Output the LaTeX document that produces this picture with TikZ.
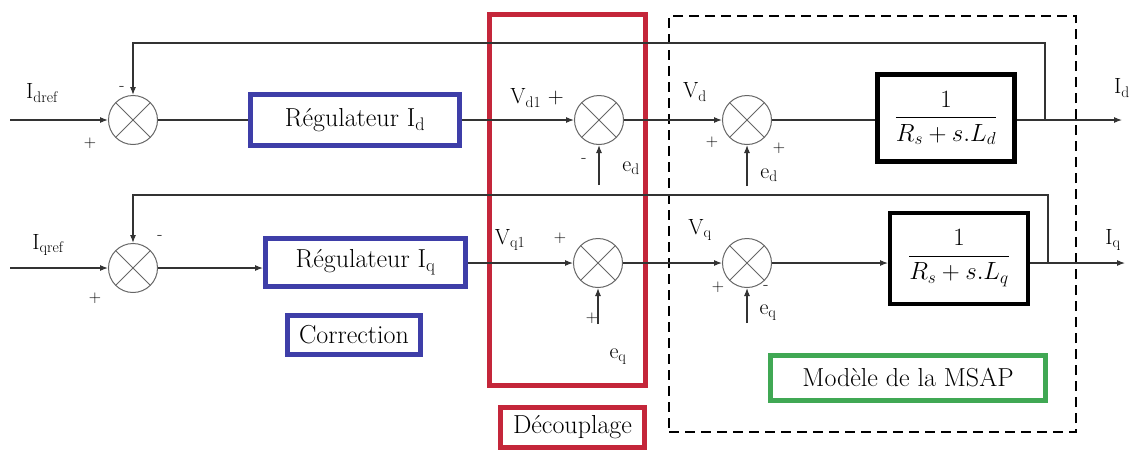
\documentclass[tikz,border=0pt]{standalone}
\usepackage{amsmath}
\usetikzlibrary{arrows.meta,positioning,calc}
\definecolor{regblue}{RGB}{62,62,168}
\definecolor{decred}{RGB}{196,38,58}
\definecolor{msapgreen}{RGB}{64,168,84}

\tikzset{
  wire/.style={line width=1.1pt,draw=black!80},
  sig/.style={wire,-{Latex[length=8pt,width=6pt]}},
  summer/.style={draw=black!60,line width=1pt,circle,minimum size=49pt,inner sep=0pt,
    path picture={\draw[black!60,line width=1pt]
      (path picture bounding box.north west) -- (path picture bounding box.south east)
      (path picture bounding box.north east) -- (path picture bounding box.south west);}},
  regbox/.style={draw=regblue,line width=5pt,fill=white,inner sep=0pt,font=\fontsize{26}{30}\selectfont},
  tfbox/.style={draw=black,line width=4.5pt,fill=white,inner sep=0pt,font=\fontsize{24}{28}\selectfont},
  lbl/.style={inner sep=0pt,font=\fontsize{22}{24}\selectfont},
  sgn/.style={inner sep=0pt,font=\fontsize{17}{17}\selectfont},
}

\begin{document}
\begin{tikzpicture}[x=1pt,y=-1pt]
  \useasboundingbox (0,0) rectangle (1131,453);

  % surrounding frames
  \node[draw=decred,line width=5pt,minimum width=156pt,minimum height=371pt] (decbox) at (567.5,200) {};
  \node[draw=black,line width=2.5pt,dash pattern=on 10pt off 6pt,minimum width=407pt,minimum height=416pt] (modbox) at (872.5,224) {};
  \node[regbox,draw=decred,minimum width=144pt,minimum height=40pt] (declbl) at (572.5,427.5) {Découplage};
  \node[regbox,draw=msapgreen,minimum width=275pt,minimum height=45pt] (msaplbl) at (908,378) {Modèle de la MSAP};

  % d axis
  \node[summer] (sd1) at (133,120) {};
  \node[regbox,minimum width=209pt,minimum height=51pt] (regd) at (355,120) {Régulateur I\textsubscript{d}};
  \node[summer] (sd2) at (599,120) {};
  \node[summer] (sd3) at (747,120) {};
  \node[tfbox,minimum width=137pt,minimum height=87pt] (Gd) at (946,118) {$\dfrac{1}{R_s + s.L_d}$};
  \coordinate (ind) at (10,120);
  \coordinate (outd) at (1122,120);
  \coordinate (fbd) at (1045,120);
  \coordinate (topd) at (1045,43);
  \coordinate (ed2) at ($(sd2.south)+(0,40)$);
  \coordinate (ed3) at ($(sd3.south)+(0,41)$);

  \draw[sig] (ind) -- (sd1);
  \draw[wire] (sd1) -- (regd);
  \draw[sig] (regd) -- (sd2);
  \draw[sig] (sd2) -- (sd3);
  \draw[wire] (sd3) -- (Gd.west |- sd3);
  \draw[sig] (Gd.east |- outd) -- (outd);
  \draw[sig] (fbd) -- (topd) -| (sd1.north);
  \draw[sig] (ed2) -- (sd2.south);
  \draw[sig] (ed3) -- (sd3.south);

  \node[lbl] (lIdref) at (42,93) {I\textsubscript{dref}};
  \node[sgn] at (90,143) {+};
  \node[sgn] at (122,88) {-};
  \node[lbl] (lVd1) at (537,98) {V\textsubscript{d1} +};
  \node[sgn] at (584,160) {-};
  \node[lbl] (led2) at (631,168) {e\textsubscript{d}};
  \node[lbl] (lVd) at (695,92) {V\textsubscript{d}};
  \node[sgn] at (712,142) {+};
  \node[sgn] at (779,148) {+};
  \node[lbl] (led3) at (769,175) {e\textsubscript{d}};
  \node[lbl,anchor=west] (lId) at (1114,88) {I\textsubscript{d}};

  % q axis
  \node[summer] (sq1) at (133,268) {};
  \node[regbox,minimum width=200pt,minimum height=48pt] (regq) at (365.5,262) {Régulateur I\textsubscript{q}};
  \node[regbox,minimum width=133pt,minimum height=39pt] (corr) at (354,335) {Correction};
  \node[summer] (sq2) at (598,263) {};
  \node[summer] (sq3) at (747,263) {};
  \node[tfbox,line width=4pt,minimum width=138pt,minimum height=91pt] (Gq) at (959,258) {$\dfrac{1}{R_s + s.L_q}$};
  \coordinate (inq) at (10,268);
  \coordinate (outq) at (1125,263);
  \coordinate (fbq) at (1048,263);
  \coordinate (topq) at (1048,195);
  \coordinate (eq2) at ($(sq2.south)+(0,36)$);
  \coordinate (eq3) at ($(sq3.south)+(0,35)$);

  \draw[sig] (inq) -- (sq1);
  \draw[sig] (sq1.east) -- (sq1.east -| regq.west);
  \draw[sig] (regq.east |- sq2) -- (sq2.west);
  \draw[sig] (sq2) -- (sq3);
  \draw[sig] (sq3.east) -- (sq3.east -| Gq.west);
  \draw[sig] (Gq.east |- outq) -- (outq);
  \draw[sig] (fbq) -- (topq) -| (sq1.north);
  \draw[sig] (eq2) -- (sq2.south);
  \draw[sig] (eq3) -- (sq3.south);

  \node[lbl] (lIqref) at (48,245) {I\textsubscript{qref}};
  \node[sgn] at (95,298) {+};
  \node[sgn] at (160,237) {-};
  \node[lbl] (lVq1) at (510,240) {V\textsubscript{q1}};
  \node[sgn] at (560,238) {+};
  \node[sgn] at (592,318) {+};
  \node[lbl] (leq2) at (618,357) {e\textsubscript{q}};
  \node[lbl] (lVq) at (700,230) {V\textsubscript{q}};
  \node[sgn] at (718,287) {+};
  \node[sgn] at (766,287) {-};
  \node[lbl] (leq3) at (768,313) {e\textsubscript{q}};
  \node[lbl] (lIq) at (1113,240) {I\textsubscript{q}};
\end{tikzpicture}
\end{document}
